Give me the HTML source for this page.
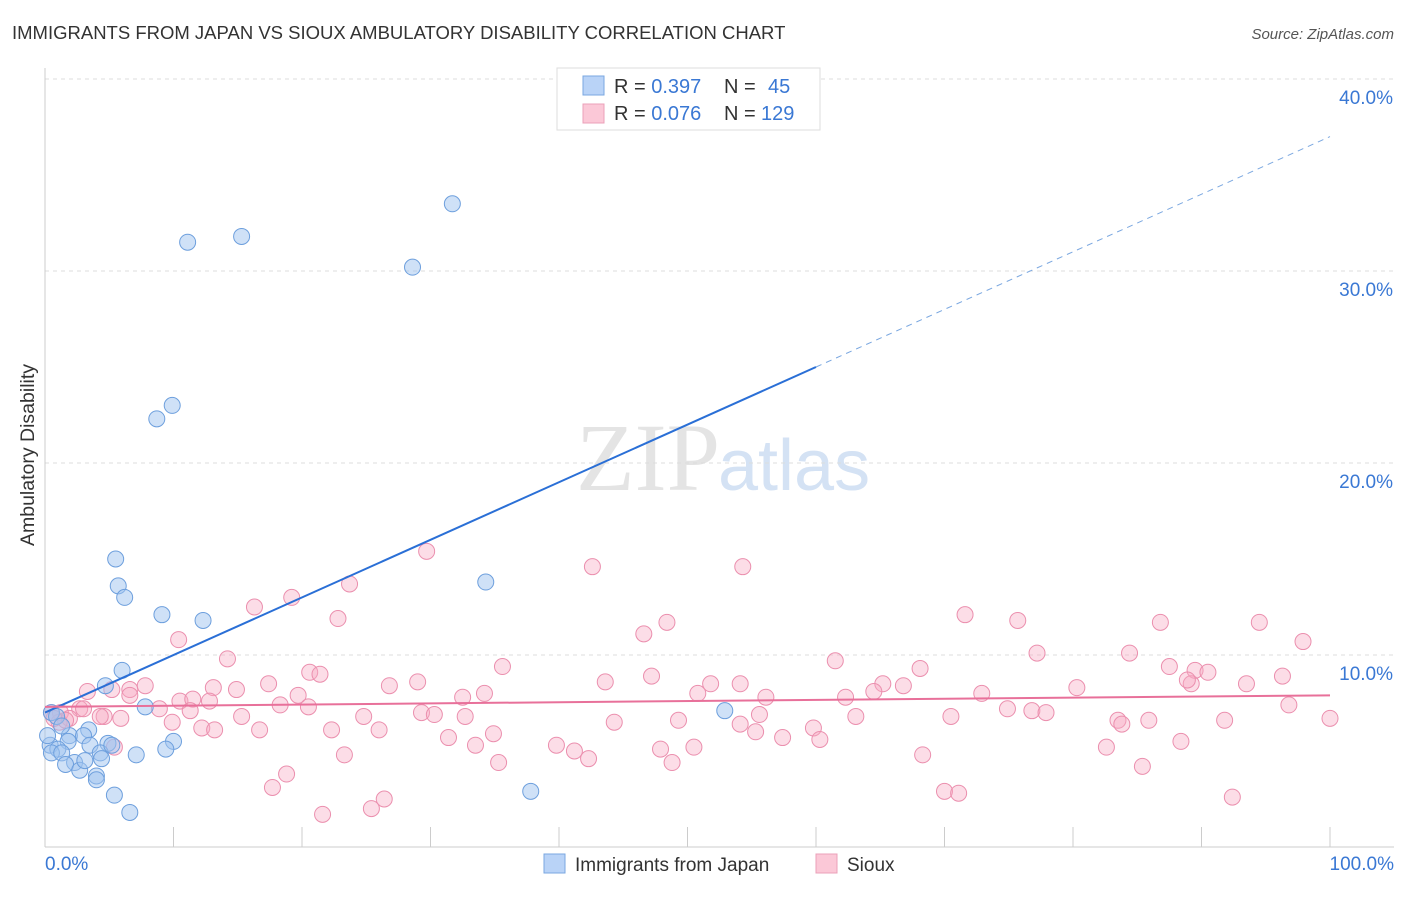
<!DOCTYPE html>
<html><head><meta charset="utf-8"><style>
body{margin:0;background:#fff;font-family:"Liberation Sans",sans-serif;}
</style></head><body>
<svg id="chart" width="1406" height="892" xmlns="http://www.w3.org/2000/svg" font-family="Liberation Sans, sans-serif">
<text x="12" y="39" font-size="18.5" fill="#333">IMMIGRANTS FROM JAPAN VS SIOUX AMBULATORY DISABILITY CORRELATION CHART</text>
<text x="1394" y="39" font-size="15" fill="#555" text-anchor="end" font-style="italic">Source: ZipAtlas.com</text>
<text x="34" y="455" font-size="19.5" fill="#333" text-anchor="middle" transform="rotate(-90 34 455)">Ambulatory Disability</text>
<text x="720" y="490" font-size="96" fill="#e4e4e4" text-anchor="end" font-family="Liberation Serif, serif">ZIP</text>
<text x="718" y="490" font-size="72" fill="#d4e2f4">atlas</text>
<g id="grid"></g><g id="axes"></g><g id="pts"></g><g id="lines"></g>
<g>
<rect x="557" y="68" width="263" height="62" fill="#fff" stroke="#ddd"/>
<rect x="583" y="76" width="21" height="19" fill="#b9d3f7" stroke="#7aa7e0"/>
<rect x="583" y="104" width="21" height="19" fill="#fbc8d7" stroke="#eba0b8"/>
<text x="614" y="93" font-size="20" fill="#333">R = <tspan fill="#3a78d4">0.397</tspan><tspan x="724">N = </tspan><tspan x="768" fill="#3a78d4">45</tspan></text>
<text x="614" y="120" font-size="20" fill="#333">R = <tspan fill="#3a78d4">0.076</tspan><tspan x="724">N = </tspan><tspan x="761" fill="#3a78d4">129</tspan></text>
</g>
<g>
<rect x="544" y="854" width="21" height="19" fill="#b9d3f7" stroke="#7aa7e0"/>
<text x="575" y="871" font-size="19" fill="#333">Immigrants from Japan</text>
<rect x="816" y="854" width="21" height="19" fill="#fbc8d7" stroke="#eba0b8"/>
<text x="847" y="871" font-size="19" fill="#333">Sioux</text>
</g>
</svg>
<script>
const yTicks=[10,20,30,40];
const xTickLabels=["0.0%","100.0%"];
const japanX=[31.7,15.3,11.1,28.6,9.9,8.7,5.5,5.7,6.2,34.3,9.1,12.3,6.0,4.7,7.8,52.9,0.5,0.9,3.4,1.9,0.4,1.8,3.0,3.5,4.9,4.3,1.0,0.5,1.3,10.0,9.4,7.1,4.4,2.3,1.6,2.7,4.0,4.0,5.4,6.6,37.8,5.2,1.3,0.2,3.1];
const japanY=[33.5,31.8,31.5,30.2,23.0,22.3,15.0,13.6,13.0,13.8,12.1,11.8,9.2,8.4,7.3,7.1,7.0,6.8,6.1,5.8,5.3,5.5,5.8,5.3,5.4,4.9,5.1,4.9,4.9,5.5,5.1,4.8,4.6,4.4,4.3,4.0,3.7,3.5,2.7,1.8,2.9,5.3,6.3,5.8,4.5];
const siouxX=[29.7,42.6,54.3,23.7,19.2,16.3,22.8,71.6,75.7,86.8,94.5,48.4,46.6,10.4,97.9,14.2,61.5,77.2,84.4,35.6,68.1,87.5,89.5,90.5,20.6,21.4,47.2,51.8,26.8,29.0,43.6,17.4,54.1,65.2,66.8,80.3,93.5,96.3,89.2,88.9,13.1,14.9,3.3,6.6,7.8,6.6,19.7,32.5,34.2,50.8,56.1,62.3,64.5,72.9,12.8,10.5,11.5,5.2,2.7,1.2,8.9,11.3,18.3,20.5,74.9,76.8,77.9,96.8,29.3,30.3,32.7,15.3,24.8,4.6,5.9,1.9,9.9,12.2,16.7,22.3,26.0,34.9,44.3,49.3,55.6,63.1,70.5,83.5,83.8,85.9,91.8,100,54.1,59.8,55.3,57.4,60.3,31.4,39.8,41.2,42.3,47.9,50.5,82.6,88.4,33.5,23.3,5.4,68.3,48.8,35.3,18.8,85.4,17.7,70.0,71.1,26.4,25.4,21.6,92.4,1.1,0.5,1.6,4.3,3.0,0.7,13.2];
const siouxY=[15.4,14.6,14.6,13.7,13.0,12.5,11.9,12.1,11.8,11.7,11.7,11.7,11.1,10.8,10.7,9.8,9.7,10.1,10.1,9.4,9.3,9.4,9.2,9.1,9.1,9.0,8.9,8.5,8.4,8.6,8.6,8.5,8.5,8.5,8.4,8.3,8.5,8.9,8.5,8.7,8.3,8.2,8.1,8.2,8.4,7.9,7.9,7.8,8.0,8.0,7.8,7.8,8.1,8.0,7.6,7.6,7.7,8.2,7.2,7.0,7.2,7.1,7.4,7.3,7.2,7.1,7.0,7.4,7.0,6.9,6.8,6.8,6.8,6.8,6.7,6.7,6.5,6.2,6.1,6.1,6.1,5.9,6.5,6.6,6.9,6.8,6.8,6.6,6.4,6.6,6.6,6.7,6.4,6.2,6.0,5.7,5.6,5.7,5.3,5.0,4.6,5.1,5.2,5.2,5.5,5.3,4.8,5.2,4.8,4.4,4.4,3.8,4.2,3.1,2.9,2.8,2.5,2.0,1.7,2.6,6.5,7.0,6.6,6.8,7.2,6.7,6.1];
const japanTrend=[7.0,37.0];
const siouxTrend=[7.3,7.9];
const X0=45,X1=1330,Y0=847,PX=19.2;
const sx=v=>X0+(X1-X0)*v/100, sy=v=>Y0-PX*v;
const NS="http://www.w3.org/2000/svg";
function mk(tag,attrs,parent){const e=document.createElementNS(NS,tag);for(const k in attrs)e.setAttribute(k,attrs[k]);document.getElementById(parent).appendChild(e);return e;}
yTicks.forEach(t=>{
 const g=mk('line',{x1:45,x2:1394,y1:sy(t),y2:sy(t),stroke:'#ddd','stroke-dasharray':'4,4'},'grid');
 
 
 const l=mk('text',{x:1393,y:sy(t)+25,'font-size':19,fill:'#3a78d4','text-anchor':'end'},'grid');
 l.textContent=t.toFixed(1)+'%';
 
 
});
const ax=mk('line',{x1:45,x2:45,y1:68,y2:847,stroke:'#ccc'},'axes');


const bx=mk('line',{x1:45,x2:1394,y1:847,y2:847,stroke:'#ccc'},'axes');


for(let i=0;i<=10;i++){
 const t=mk('line',{x1:sx(i*10),x2:sx(i*10),y1:827,y2:847,stroke:'#ccc'},'axes');
 
 
}
[[0,'start',45],[1,'end',1394]].forEach(([i,a,x])=>{
 const l=mk('text',{x:x,y:870,'font-size':19,fill:'#3a78d4','text-anchor':a},'axes');
 l.textContent=xTickLabels[i];
 
 
});
siouxX.forEach((v,i)=>{
 const c=mk('circle',{cx:sx(v),cy:sy(siouxY[i]),r:8,fill:'rgba(247,170,196,0.4)',stroke:'#eb8fae','stroke-width':1},'pts');
 
 
});
japanX.forEach((v,i)=>{
 const c=mk('circle',{cx:sx(v),cy:sy(japanY[i]),r:8,fill:'rgba(160,196,240,0.5)',stroke:'#6d9fdd','stroke-width':1},'pts');
 
 
});
const jAt=x=>japanTrend[0]+(japanTrend[1]-japanTrend[0])*x/100;
const l1=mk('line',{x1:sx(0),y1:sy(jAt(0)),x2:sx(60),y2:sy(jAt(60)),stroke:'#2a6fd6','stroke-width':2},'lines');


const l2=mk('line',{x1:sx(60),y1:sy(jAt(60)),x2:sx(100),y2:sy(jAt(100)),stroke:'#7aa7e0','stroke-width':1,'stroke-dasharray':'6,5'},'lines');


const l3=mk('line',{x1:sx(0),y1:sy(siouxTrend[0]),x2:sx(100),y2:sy(siouxTrend[1]),stroke:'#e8709a','stroke-width':2},'lines');


</script>
</body></html>
